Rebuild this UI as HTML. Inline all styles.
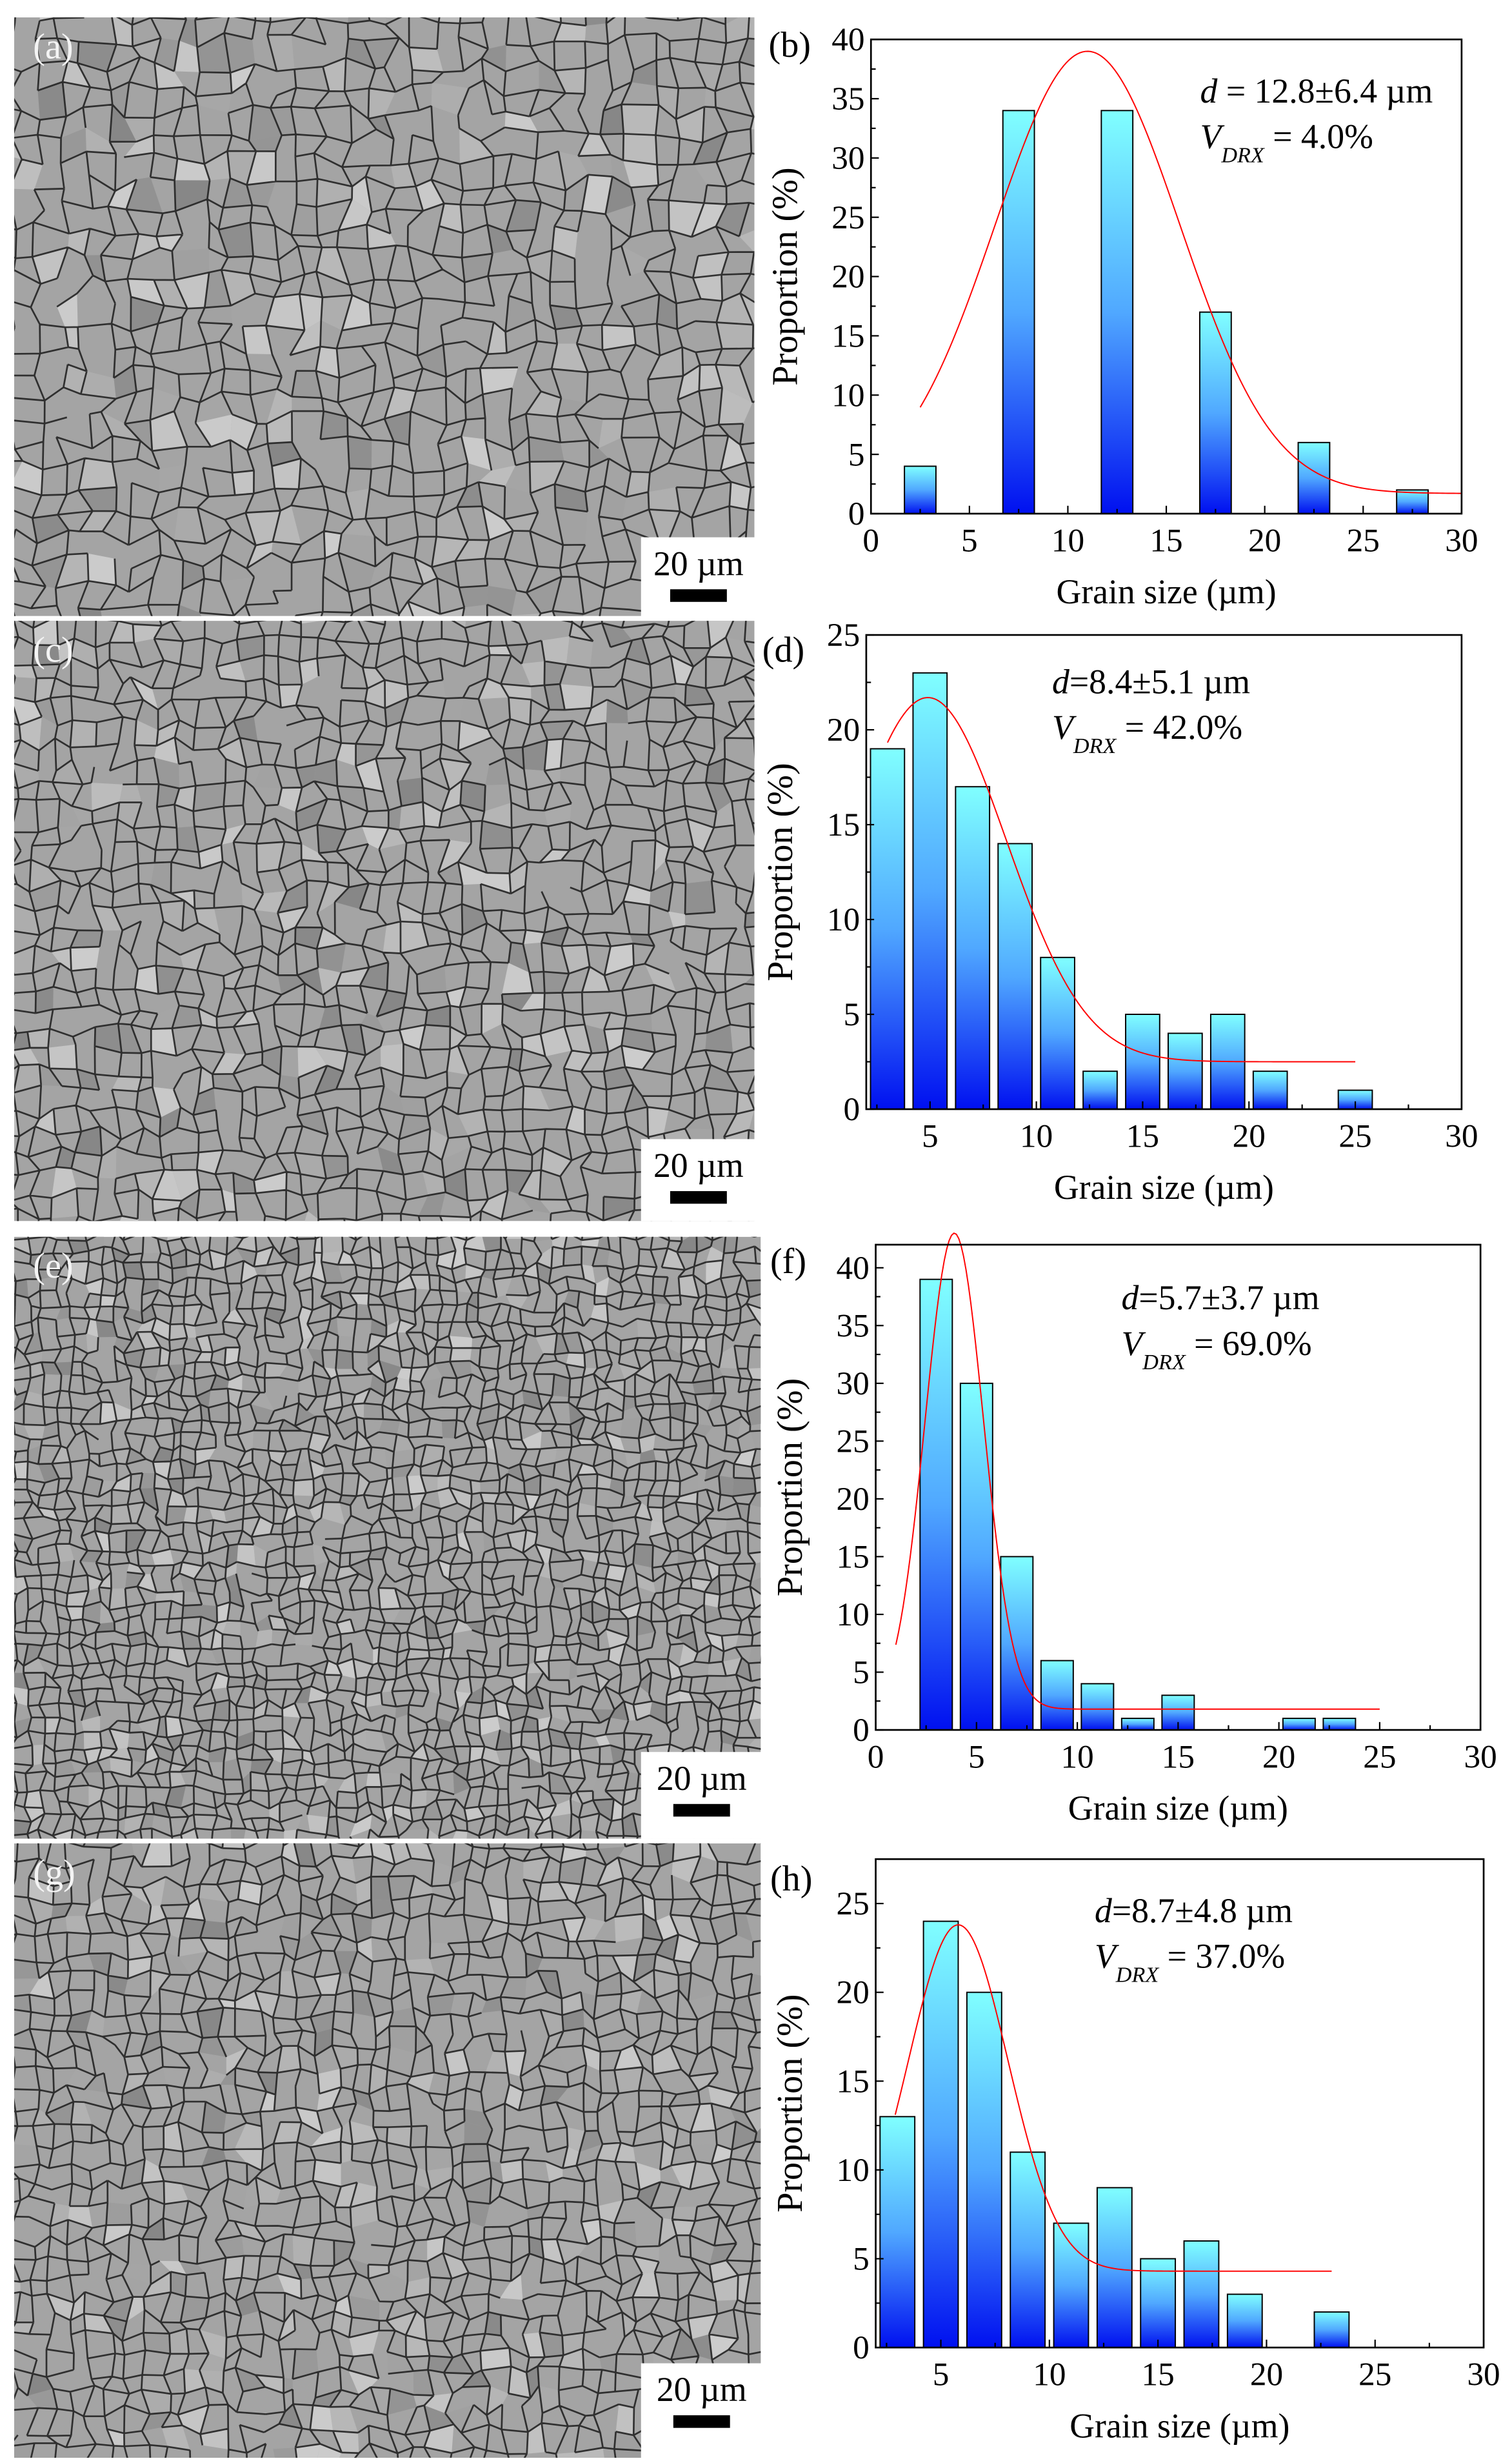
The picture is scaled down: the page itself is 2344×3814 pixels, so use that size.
<!DOCTYPE html>
<html><head><meta charset="utf-8"><title>Grain size distributions</title>
<style>
html,body{margin:0;padding:0;background:#fff;}
svg{display:block;}
svg text{font-family:"Liberation Serif","Times New Roman",serif;}
</style></head>
<body>
<svg id="fig" width="2344" height="3814" viewBox="0 0 960 1562" xmlns="http://www.w3.org/2000/svg" font-family="Liberation Serif, serif">
<defs>
<linearGradient id="barGrad" x1="0" y1="0" x2="0" y2="1">
<stop offset="0" stop-color="#80ffff"/>
<stop offset="0.5" stop-color="#50a8ff"/>
<stop offset="1" stop-color="#0010f0"/>
</linearGradient>
</defs>
<g id="micros"></g>
<g id="charts"></g>
</svg>
<script>
// ---------- chart data ----------
const binsB = [2.5, 7.5, 12.5, 17.5, 22.5, 27.5];
const valsB = [4, 34, 34, 17, 6, 2];
const fitB = [1.7, 37.3, 11.0, 4.7, 2.5, 30];   // y0, A, xc, w, xStart, xEnd

const binsD = [3, 5, 7, 9, 11, 13, 15, 17, 19, 21, 23, 25];
const valsD = [19, 23, 17, 14, 8, 2, 5, 4, 5, 2, 0, 1];
const fitD = [2.5, 19.2, 4.9, 3.7, 3, 25];

const binsF = [3, 5, 7, 9, 11, 13, 15, 17, 19, 21, 23];
const valsF = [39, 30, 15, 6, 4, 1, 3, 0, 0, 1, 1];
const fitF = [1.8, 41.2, 3.9, 1.45, 1, 25];

const binsH = [3, 5, 7, 9, 11, 13, 15, 17, 19, 21, 23];
const valsH = [13, 24, 20, 11, 7, 9, 5, 6, 3, 0, 2];
const fitH = [4.3, 19.5, 5.8, 2.3, 2.9, 23];

const xTicks = [0, 5, 10, 15, 20, 25, 30];
const yTicks40 = [0, 5, 10, 15, 20, 25, 30, 35, 40];
const yTicks25 = [0, 5, 10, 15, 20, 25];

const NS = "http://www.w3.org/2000/svg";
const FONT = '"Liberation Serif", "Times New Roman", serif';
function mk(tag, attrs, parent) {
  const e = document.createElementNS(NS, tag);
  for (const k in attrs) e.setAttribute(k, attrs[k]);
  if (tag === 'text') e.setAttribute('font-family', FONT);
  if (parent) parent.appendChild(e);
  return e;
}

// ---------- micrographs ----------
const micros = document.getElementById('micros');
let seed = 12345;
function rnd() { seed = (seed * 1103515245 + 12345) % 2147483648; return seed / 2147483648; }
const panels = [
  {id:'a', x:9, y:11, w:470, h:380, cell:15, sb:[407,341,480,392], lab:'(a)'},
  {id:'c', x:9, y:394, w:470, h:381, cell:13, sb:[407,723,480,775], lab:'(c)'},
  {id:'e', x:9, y:785, w:474, h:382, cell:9, sb:[407,1112,484,1167], lab:'(e)'},
  {id:'g', x:9, y:1170, w:474, h:390, cell:12, sb:[407,1500,484,1560], lab:'(g)'}
];
panels.forEach(p => {
  const g = mk('g', {}, micros);
  
  
  const cp = mk('clipPath', {id:'clip'+p.id}, g);
  mk('rect', {x:p.x, y:p.y, width:p.w, height:p.h}, cp);
  const inner = mk('g', {'clip-path':'url(#clip'+p.id+')'}, g);
  mk('rect', {x:p.x, y:p.y, width:p.w, height:p.h, fill:'#a4a4a4'}, inner);
  const nx = Math.ceil(p.w / p.cell) + 2, ny = Math.ceil(p.h / p.cell) + 2;
  const pts = [];
  for (let j = 0; j < ny; j++) { const row = [];
    for (let i = 0; i < nx; i++) row.push([p.x + (i - 1 + (rnd() - 0.5) * 0.7) * p.cell, p.y + (j - 1 + (rnd() - 0.5) * 0.7) * p.cell]);
    pts.push(row); }
  for (let j = 0; j < ny - 1; j++) for (let i = 0; i < nx - 1; i++) {
    if (rnd() < 0.3) {
      const a = pts[j][i], b = pts[j][i+1], c = pts[j+1][i+1], d = pts[j+1][i];
      const v = Math.floor(135 + rnd() * 70);
      mk('path', {d:`M${a}L${b}L${c}L${d}Z`, fill:`rgb(${v},${v},${v})`, stroke:'none'}, inner);
    }
  }
  let d = '';
  for (let j = 0; j < ny; j++) for (let i = 0; i < nx - 1; i++) if (rnd() < 0.85) d += `M${pts[j][i]}L${pts[j][i+1]}`;
  for (let j = 0; j < ny - 1; j++) for (let i = 0; i < nx; i++) if (rnd() < 0.85) d += `M${pts[j][i]}L${pts[j+1][i]}`;
  mk('path', {d:d, stroke:'#222', 'stroke-width':1.1, fill:'none', 'stroke-opacity':0.9}, inner);
  const lab = mk('text', {x:p.x + 12, y:p.y + 26, 'font-size':23, fill:'#f4f4f4'}, g);
  lab.textContent = p.lab;
  
  
  const sbg = mk('g', {}, g);
  
  
  const [x1, y1, x2, y2] = p.sb;
  mk('rect', {x:x1, y:y1, width:x2 - x1, height:y2 - y1, fill:'#fff'}, sbg);
  const cx = (x1 + x2) / 2;
  const st = mk('text', {x:cx, y:y1 + 24, 'font-size':22, 'text-anchor':'middle', fill:'#000'}, sbg);
  st.textContent = '20 µm';
  mk('rect', {x:cx - 18, y:y1 + 33, width:36, height:8, fill:'#000'}, sbg);
});

// ---------- charts ----------
const chartsG = document.getElementById('charts');
function drawChart(o) {
  const g = mk('g', {}, chartsG);
  
  
  const sx = v => o.L + (v - o.xmin) / (o.xmax - o.xmin) * (o.R - o.L);
  const sy = v => o.B - (v - 0) / o.ymax * (o.B - o.T);
  o.bins.forEach((c, i) => {
    const v = o.vals[i];
    if (v <= 0) return;
    const r = mk('rect', {x:sx(c - o.bw / 2), y:sy(v), width:sx(c + o.bw / 2) - sx(c - o.bw / 2), height:sy(0) - sy(v), fill:'url(#barGrad)', stroke:'#000', 'stroke-width':0.8}, g);
    
    
  });
  const [y0, A, xc, w, xs, xe] = o.fit;
  let d = '';
  for (let k = 0; k <= 200; k++) {
    const x = xs + (xe - xs) * k / 200;
    const y = y0 + A * Math.exp(-((x - xc) * (x - xc)) / (2 * w * w));
    d += (k ? 'L' : 'M') + sx(x).toFixed(2) + ',' + sy(y).toFixed(2);
  }
  const cv = mk('path', {d:d, fill:'none', stroke:'#ff0000', 'stroke-width':0.8}, g);
  
  
  const fr = mk('rect', {x:o.L, y:o.T, width:o.R - o.L, height:o.B - o.T, fill:'none', stroke:'#000', 'stroke-width':1.1}, g);
  
  
  const xa = mk('g', {}, g);
  
  
  for (let v = 0; v <= 30; v += 2.5) {
    if (v < o.xmin - 0.01) continue;
    const major = v % 5 === 0;
    mk('line', {x1:sx(v), x2:sx(v), y1:o.B, y2:o.B - (major ? 5 : 3), stroke:'#000', 'stroke-width':0.9}, xa);
  }
  o.xTicks.forEach(v => {
    if (v < o.xmin - 0.01) return;
    const t = mk('text', {x:sx(v), y:o.B + 24, 'font-size':21, 'text-anchor':'middle'}, xa);
    t.textContent = v;
  });
  const xt = mk('text', {x:(o.L + o.R) / 2, y:o.B + 57, 'font-size':22, 'text-anchor':'middle'}, g);
  xt.textContent = 'Grain size (µm)';
  
  
  const ya = mk('g', {}, g);
  
  
  for (let v = 0; v <= o.ymax + 0.01; v += 2.5) {
    const major = v % 5 === 0;
    mk('line', {x1:o.L, x2:o.L + (major ? 5 : 3), y1:sy(v), y2:sy(v), stroke:'#000', 'stroke-width':0.9}, ya);
  }
  o.yTicks.forEach(v => {
    const t = mk('text', {x:o.L - 4, y:sy(v) + 7, 'font-size':21, 'text-anchor':'end'}, ya);
    t.textContent = v;
  });
  const cy = (o.T + o.B) / 2;
  const yt = mk('text', {x:o.L - 47, y:cy, 'font-size':23, 'text-anchor':'middle', transform:`rotate(-90 ${o.L - 47} ${cy})`}, g);
  yt.textContent = 'Proportion (%)';
  
  
  const pl = mk('text', {x:o.labX, y:o.labY, 'font-size':23}, g);
  pl.textContent = o.lab;
  
  
  const s1 = mk('text', {x:o.stX, y:o.stY, 'font-size':22}, g);
  s1.innerHTML = '<tspan font-style="italic">d</tspan>' + o.st1;
  
  
  const s2 = mk('text', {x:o.stX, y:o.stY + 29, 'font-size':22}, g);
  s2.innerHTML = '<tspan font-style="italic">V</tspan><tspan font-style="italic" font-size="14" dy="9">DRX</tspan><tspan dy="-9"> = ' + o.st2 + '</tspan>';
  
  
}

drawChart({id:'b', L:553, R:928, T:25, B:326, xmin:0, xmax:30, ymax:40, bw:1.6,
  bins:binsB, vals:valsB, fit:fitB, xTicks:xTicks, yTicks:yTicks40,
  lab:'(b)', labX:488, labY:36, stX:762, stY:65, st1:' = 12.8±6.4 µm', st2:'4.0%'});
drawChart({id:'d', L:550, R:928, T:403, B:704, xmin:2, xmax:30, ymax:25, bw:1.6,
  bins:binsD, vals:valsD, fit:fitD, xTicks:xTicks, yTicks:yTicks25,
  lab:'(d)', labX:484, labY:420, stX:668, stY:440, st1:'=8.4±5.1 µm', st2:'42.0%'});
drawChart({id:'f', L:556, R:940, T:790, B:1098, xmin:0, xmax:30, ymax:42, bw:1.6,
  bins:binsF, vals:valsF, fit:fitF, xTicks:xTicks, yTicks:yTicks40,
  lab:'(f)', labX:489, labY:808, stX:712, stY:831, st1:'=5.7±3.7 µm', st2:'69.0%'});
drawChart({id:'h', L:556, R:942, T:1180, B:1490, xmin:2, xmax:30, ymax:27.5, bw:1.6,
  bins:binsH, vals:valsH, fit:fitH, xTicks:xTicks, yTicks:yTicks25,
  lab:'(h)', labX:489, labY:1200, stX:695, stY:1220, st1:'=8.7±4.8 µm', st2:'37.0%'});
</script>
</body></html>
